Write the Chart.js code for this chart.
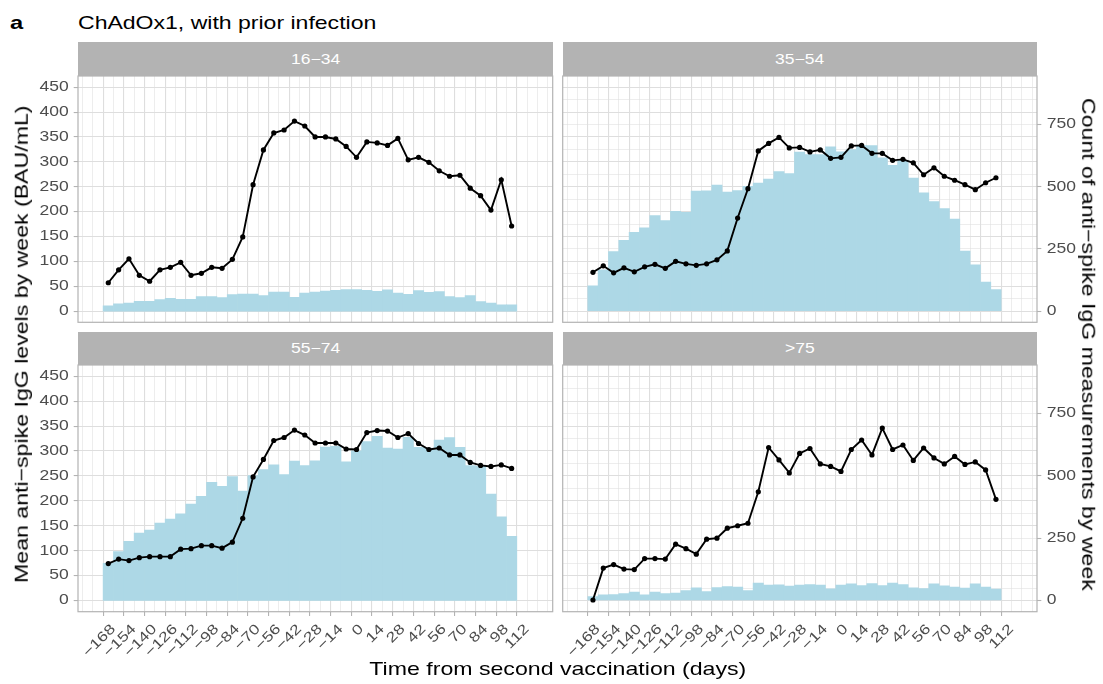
<!DOCTYPE html>
<html>
<head>
<meta charset="utf-8">
<script src="https://cdn.jsdelivr.net/npm/chart.js@4.4.1/dist/chart.umd.min.js"></script>
<style>
  html, body { margin: 0; padding: 0; background: #fff; overflow: hidden; }
  #wrap { position: absolute; left: 0; top: 0; width: 1103px; height: 684px;
          font-family: "Liberation Sans", Arial, sans-serif; }
  canvas { position: absolute; left: 0; top: 0; }
  .w { display: inline-block; transform: scaleX(1.25); }
  .t { position: absolute; font-size: 18.5px; line-height: 19px; color: #000; white-space: nowrap; }
  .t .w { transform-origin: 0 50%; transform: scaleX(1.245); }
  .strip { position: absolute; background: #b3b3b3; color: #fff; font-size: 14px; text-align: center; }
  .ax { position: absolute; font-size: 18.5px; line-height: 18.5px; height: 18.5px; color: #000; text-align: center; white-space: nowrap; }
</style>
</head>
<body>
<div id="wrap">
  <div class="t" style="left:10px;top:13.3px;font-weight:bold;font-size:19px"><span class="w">a</span></div>
  <div class="t" style="left:77.7px;top:13.3px"><span class="w">ChAdOx1, with prior infection</span></div>

  <div class="strip" style="left:78px;top:42px;width:474.7px;height:34px;line-height:34px"><span class="w">16−34</span></div>
  <div class="strip" style="left:562.7px;top:42px;width:474.3px;height:34px;line-height:34px"><span class="w">35−54</span></div>
  <div class="strip" style="left:78px;top:332px;width:474.7px;height:33px;line-height:33px"><span class="w">55−74</span></div>
  <div class="strip" style="left:562.7px;top:332px;width:474.3px;height:33px;line-height:33px"><span class="w">&gt;75</span></div>

  <canvas id="c1" width="1103" height="684"></canvas>
  <canvas id="c2" width="1103" height="684"></canvas>
  <canvas id="c3" width="1103" height="684"></canvas>
  <canvas id="c4" width="1103" height="684"></canvas>

  <div class="ax" style="left:0;width:1115px;top:660px"><span class="w">Time from second vaccination (days)</span></div>
  <div class="ax" style="left:-278px;width:600px;top:334.75px;transform:rotate(-90deg)"><span class="w">Mean anti−spike IgG levels by week (BAU/mL)</span></div>
  <div class="ax" style="left:788px;width:600px;top:334.75px;transform:rotate(90deg)"><span class="w">Count of anti−spike IgG measurements by week</span></div>
</div>

<script>
// weeks relative to second dose
const days = [-168, -161, -154, -147, -140, -133, -126, -119, -112, -105,
              -98, -91, -84, -77, -70, -63, -56, -49, -42, -35,
              -28, -21, -14, -7, 0, 7, 14, 21, 28, 35,
              42, 49, 56, 63, 70, 77, 84, 91, 98, 105];

// mean anti-spike IgG (BAU/mL) per week
const mean16_34 = [57, 83, 105, 72, 60, 83, 88, 98, 72, 76, 88, 86, 104, 149, 254, 324, 358, 364, 382, 372,
                   350, 350, 346, 331, 309, 340, 338, 333, 347, 304, 309, 299, 282, 271, 273, 247, 232, 203, 264, 171];
const mean35_54 = [78, 91, 77, 87, 79, 89, 94, 86, 100, 95, 92, 95, 103, 121, 187, 246, 322, 337, 349, 328,
                   329, 320, 324, 307, 309, 332, 333, 317, 317, 303, 305, 298, 274, 288, 271, 263, 254, 244, 258, 268];
const mean55_74 = [74, 83, 80, 86, 88, 88, 88, 103, 104, 110, 110, 105, 117, 165, 248, 283, 321, 327, 342, 332,
                   316, 316, 316, 304, 303, 337, 341, 340, 327, 335, 315, 303, 306, 292, 292, 277, 271, 269, 272, 265];
const mean75 = [1, 65, 72, 63, 62, 84, 84, 83, 113, 104, 93, 123, 125, 145, 150, 155, 218, 307, 282, 256,
                295, 305, 274, 269, 259, 303, 322, 292, 346, 303, 312, 281, 306, 286, 274, 289, 273, 278, 262, 203];

// number of measurements per week
const count16_34 = [21, 29, 32, 39, 39, 46, 51, 47, 47, 58, 58, 54, 66, 68, 68, 62, 76, 76, 55, 72,
                    76, 80, 84, 87, 87, 84, 79, 86, 72, 67, 82, 75, 78, 58, 54, 62, 38, 32, 25, 25];
const count35_54 = [102, 166, 239, 284, 317, 335, 384, 364, 401, 397, 482, 483, 507, 478, 484, 502, 515, 531, 561, 553,
                    639, 629, 629, 660, 640, 649, 665, 665, 616, 586, 606, 535, 475, 440, 412, 370, 241, 186, 117, 87];
const count55_74 = [149, 196, 237, 271, 283, 311, 327, 348, 387, 418, 474, 458, 497, 439, 501, 525, 544, 505, 559, 541,
                    560, 616, 619, 556, 601, 638, 659, 612, 608, 655, 615, 612, 644, 654, 615, 541, 538, 427, 336, 257];
const count75 = [16, 23, 24, 28, 34, 23, 34, 28, 30, 40, 51, 36, 52, 56, 54, 40, 70, 62, 63, 58,
                 62, 64, 62, 47, 62, 67, 60, 68, 60, 70, 64, 51, 48, 67, 59, 54, 50, 67, 54, 46];

// axis ticks
const xTicks = [-168, -154, -140, -126, -112, -98, -84, -70, -56, -42, -28, -14, 0, 14, 28, 42, 56, 70, 84, 98, 112];
const yTicks = [0, 50, 100, 150, 200, 250, 300, 350, 400, 450];
const countTicks = [0, 250, 500, 750];

const W = 1103, H = 684;
const LW = 50, RW = 50, XH = 50;
const GRID = '#dedede', GREY70 = '#b3b3b3', TEXT = '#4d4d4d';
const tickFont = { family: 'Liberation Sans', size: 14 };
const TEXT_STRETCH = 1.25; // the source's lettering is wide

// minor grid: halfway between majors, one step past each end
const xGrid = [xTicks[0] - 14, xTicks[0] - 7];
xTicks.forEach((v, i) => { xGrid.push(v); if (i < xTicks.length - 1) xGrid.push(v + 7); });
xGrid.push(xTicks[xTicks.length - 1] + 7, xTicks[xTicks.length - 1] + 14);
const yGrid = [];
yTicks.forEach((v, i) => { yGrid.push(v); if (i < yTicks.length - 1) yGrid.push(v + 25); });

const minus = v => String(v).replace('-', '\u2212');

// widen tick labels along their own baseline, around their anchor
const wideText = {
  id: 'wideText',
  beforeInit(chart) {
    const ctx = chart.ctx;
    const orig = ctx.fillText.bind(ctx);
    ctx.fillText = function (text, x, y) {
      ctx.save();
      ctx.translate(x, y);
      ctx.scale(TEXT_STRETCH, 1);
      orig(text, 0, 0);
      ctx.restore();
    };
  }
};

const panelBorder = {
  id: 'panelBorder',
  afterDraw(chart) {
    const { ctx, chartArea: a } = chart;
    ctx.save();
    ctx.strokeStyle = GREY70;
    ctx.lineWidth = 1.2;
    ctx.strokeRect(a.left, a.top, a.right - a.left, a.bottom - a.top);
    ctx.restore();
  }
};

function makePanel(p) {
  const ctx = document.getElementById(p.id).getContext('2d');
  const isMajorX = c => c.tick && xTicks.includes(c.tick.value);
  const isMajorY = c => c.tick && yTicks.includes(c.tick.value);

  return new Chart(ctx, {
    type: 'bar',
    data: {
      datasets: [
        {
          type: 'line',
          data: days.map((d, i) => ({ x: d, y: p.means[i] })),
          yAxisID: 'y',
          borderColor: '#000',
          borderWidth: 1.9,
          pointRadius: 2.6,
          pointBackgroundColor: '#000',
          pointBorderWidth: 0,
          tension: 0,
          order: 1
        },
        {
          type: 'bar',
          data: days.map((d, i) => ({ x: d, y: p.counts[i] })),
          yAxisID: 'y2',
          backgroundColor: '#add8e6',
          borderWidth: 0,
          categoryPercentage: 1,
          barPercentage: 1,
          order: 2
        }
      ]
    },
    options: {
      responsive: false,
      animation: false,
      layout: {
        padding: {
          left: p.l - (p.left ? LW : 0),
          right: W - p.r - (p.right ? RW : 0),
          top: p.t,
          bottom: H - p.b - (p.xlab ? XH : 0)
        }
      },
      plugins: { legend: { display: false }, tooltip: { enabled: false } },
      scales: {
        x: {
          type: 'linear', min: -188.5, max: 132.8, offset: false,
          afterBuildTicks: s => { s.ticks = xGrid.map(v => ({ value: v })); },
          afterFit: s => { s.height = p.xlab ? XH : 0; },
          grid: {
            color: GRID,
            lineWidth: c => isMajorX(c) ? 1.1 : 0.55,
            drawTicks: p.xlab, tickLength: 4.3, tickWidth: 1.1,
            tickColor: c => isMajorX(c) ? GREY70 : 'rgba(0,0,0,0)'
          },
          border: { display: false },
          ticks: {
            display: p.xlab, autoSkip: false, minRotation: 45, maxRotation: 45,
            padding: 5, labelOffset: 5, color: TEXT, font: tickFont,
            callback: v => xTicks.includes(v) ? minus(v) : ''
          }
        },
        y: {
          type: 'linear', position: 'left', min: -22.5, max: 472.5,
          afterBuildTicks: s => { s.ticks = yGrid.map(v => ({ value: v })); },
          afterFit: s => { s.width = p.left ? LW : 0; },
          grid: {
            color: GRID,
            lineWidth: c => isMajorY(c) ? 1.1 : 0.55,
            drawTicks: p.left, tickLength: 4.3, tickWidth: 1.1,
            tickColor: c => isMajorY(c) ? GREY70 : 'rgba(0,0,0,0)'
          },
          border: { display: false },
          ticks: {
            display: p.left, padding: 5, color: TEXT, font: tickFont,
            callback: v => yTicks.includes(v) ? String(v) : ''
          }
        },
        y2: {
          type: 'linear', position: 'right', min: -45, max: 945,
          afterBuildTicks: s => { s.ticks = countTicks.map(v => ({ value: v })); },
          afterFit: s => { s.width = p.right ? RW : 0; },
          grid: {
            display: p.right, drawOnChartArea: false, drawTicks: true,
            tickLength: 4.3, tickWidth: 1.1, tickColor: GREY70
          },
          border: { display: false },
          ticks: { display: p.right, padding: 5.5, color: TEXT, font: tickFont }
        }
      }
    },
    plugins: [wideText, panelBorder]
  });
}

makePanel({ id: 'c1', l: 78, r: 552.7, t: 76, b: 322.3, left: true, right: false, xlab: false, means: mean16_34, counts: count16_34 });
makePanel({ id: 'c2', l: 562.7, r: 1037, t: 76, b: 322.3, left: false, right: true, xlab: false, means: mean35_54, counts: count35_54 });
makePanel({ id: 'c3', l: 78, r: 552.7, t: 365, b: 611.7, left: true, right: false, xlab: true, means: mean55_74, counts: count55_74 });
makePanel({ id: 'c4', l: 562.7, r: 1037, t: 365, b: 611.7, left: false, right: true, xlab: true, means: mean75, counts: count75 });
</script>
</body>
</html>
